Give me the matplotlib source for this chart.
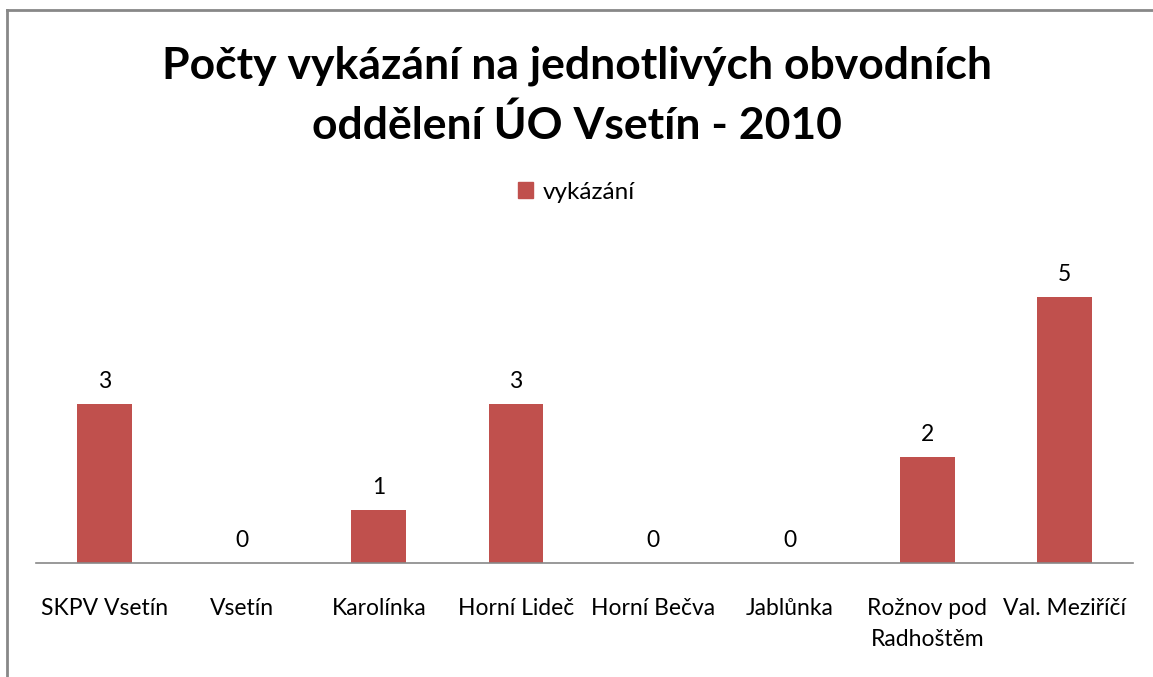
import matplotlib.pyplot as plt
from matplotlib.patches import Patch
from matplotlib.lines import Line2D

# --------------------------------------------------
# Data
# --------------------------------------------------

categories = ["SKPV Vsetín", "Vsetín", "Karolínka", "Horní Lideč",
              "Horní Bečva", "Jablůnka", "Rožnov pod\nRadhoštěm", "Val. Meziříčí"]
values = [3, 0, 1, 3, 0, 0, 2, 5]
series_name = "vykázání"
title = "Počty vykázání na jednotlivých obvodních\noddělení ÚO Vsetín - 2010"

bar_color = "#C0504D"
font = ["Lato", "DejaVu Sans"]

plt.rcParams["font.family"] = font

# --------------------------------------------------
# Figure
# --------------------------------------------------

fig = plt.figure(figsize=(11.53, 6.77), dpi=100)
ax = fig.add_axes([36 / 1153, (677 - 563) / 677, (1133 - 36) / 1153, (563 - 244) / 677])

x = list(range(len(categories)))
ax.bar(x, values, width=0.4, color=bar_color)

for xi, v in zip(x, values):
    ax.annotate(str(v), (xi, v), xytext=(0, 16), textcoords="offset points",
                ha="center", va="center", fontsize=16.5)

ax.set_xlim(-0.5, len(categories) - 0.5)
ax.set_ylim(0, 6)
ax.set_xticks(x)
ax.set_xticklabels(categories, fontsize=16.5, linespacing=1.6, va="top")
ax.tick_params(axis="x", length=0, pad=25)
ax.set_yticks([])

for side in ["top", "right", "left"]:
    ax.spines[side].set_visible(False)
ax.spines["bottom"].set_color("#888888")
ax.spines["bottom"].set_linewidth(1.2)

fig.text(0.5, 1 - 96 / 677, title, ha="center", va="center",
         fontsize=32, fontweight="bold", linespacing=1.55)

ax.legend(handles=[Patch(color=bar_color, label=series_name)],
          loc="center", bbox_to_anchor=(0.5, 1 - 192 / 677),
          bbox_transform=fig.transFigure, frameon=False, fontsize=17.5,
          handlelength=0.6, handleheight=0.6, handletextpad=0.4)

# outer chart border (top and left visible)
fig.add_artist(Line2D([6.5 / 1153, 1], [1 - 9.5 / 677, 1 - 9.5 / 677],
                      transform=fig.transFigure, color="#888888", lw=2))
fig.add_artist(Line2D([6.5 / 1153, 6.5 / 1153], [0, 1 - 9.5 / 677],
                      transform=fig.transFigure, color="#888888", lw=2))

fig.savefig("out.png", dpi=100)
